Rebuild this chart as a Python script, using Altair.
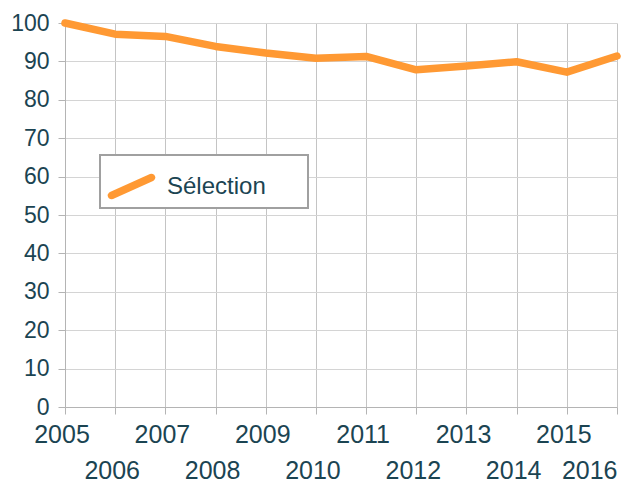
import altair as alt
import pandas as pd
import numpy as np

years = [2005, 2006, 2007, 2008, 2009, 2010, 2011, 2012, 2013, 2014, 2015, 2016]
values = [100, 97.1, 96.5, 93.9, 92.2, 90.8, 91.3, 87.8, 88.8, 89.9, 87.2, 91.4]
series = "Sélection"
y_ticks = list(range(0, 101, 10))

df = pd.DataFrame({"year": years, "value": values, "series": [series] * len(years)})

# capsule-shaped legend symbol (unit coordinates)
p1 = np.array([-20.0, 9.0])
p2 = np.array([20.0, -9.0])
r = 3.8
d = (p2 - p1) / np.linalg.norm(p2 - p1)
ang0 = np.arctan2(d[1], d[0])
pts = []
for a in np.linspace(ang0 - np.pi / 2, ang0 + np.pi / 2, 9):
    pts.append(p2 + r * np.array([np.cos(a), np.sin(a)]))
for a in np.linspace(ang0 + np.pi / 2, ang0 + 3 * np.pi / 2, 9):
    pts.append(p1 + r * np.array([np.cos(a), np.sin(a)]))
half = 23.5
path = "M " + " L ".join(f"{x / half:.3f} {y / half:.3f}" for x, y in pts) + " Z"

TXT = "#1b4452"
FONT = "Liberation Sans"
NB = "\u00a0"
ZW = "\u200b"

last_year = years[-1]
x_label_expr = (
    f"datum.value == {last_year} ? ['', datum.label] : "
    f"(datum.value % 2 == 1 ? [datum.label + '{NB}{ZW}'] : ['', datum.label + '{NB}{ZW}'])"
)

chart = alt.Chart(df).mark_line(strokeWidth=7.5, strokeCap="round", strokeJoin="round").encode(
    x=alt.X("year:Q",
            scale=alt.Scale(domain=[2005, 2016], nice=False, zero=False),
            axis=alt.Axis(values=years, format="d", title=None,
                          labelExpr=x_label_expr,
                          labelAlign={"condition": {"test": f"datum.value == {last_year}",
                                                    "value": "right"},
                                      "value": "center"},
                          labelBaseline="top", labelLineHeight=36, labelPadding=8,
                          labelFontSize=25,
                          labelOverlap=False, labelFlush=False, labelBound=False,
                          tickSize=7, gridColor="#c4c4c4")),
    y=alt.Y("value:Q",
            scale=alt.Scale(domain=[0, 100], nice=False),
            axis=alt.Axis(values=y_ticks, title=None, tickSize=7, labelPadding=9,
                          labelFontSize=23, gridColor="#d4d4d4")),
    color=alt.Color("series:N", scale=alt.Scale(range=["#ff9933"]),
                    legend=alt.Legend(title=None, orient="none", legendX=35, legendY=132,
                                      symbolType=path, symbolSize=2209,
                                      symbolFillColor="#ff9933", symbolStrokeColor="#ff9933",
                                      symbolStrokeWidth=0, labelOffset=12, padding=8,
                                      labelExpr=f"datum.label + '{NB * 5}{ZW}'",
                                      strokeColor="#a0a0a0", fillColor="white")),
).properties(
    width=552, height=384,
    autosize=alt.AutoSizeParams(type="none"),
    padding={"left": 57, "top": 15, "right": 16, "bottom": 76},
).configure_view(stroke=None).configure_axis(
    labelFont=FONT, labelColor=TXT,
    domainColor="#b4b4b4", tickColor="#b4b4b4", domainWidth=1, gridWidth=1,
).configure_legend(
    labelFont=FONT, labelFontSize=24, labelColor=TXT, strokeWidth=2, labelLimit=400,
)

chart.save("out.html", embed_options={"renderer": "svg", "actions": False})
